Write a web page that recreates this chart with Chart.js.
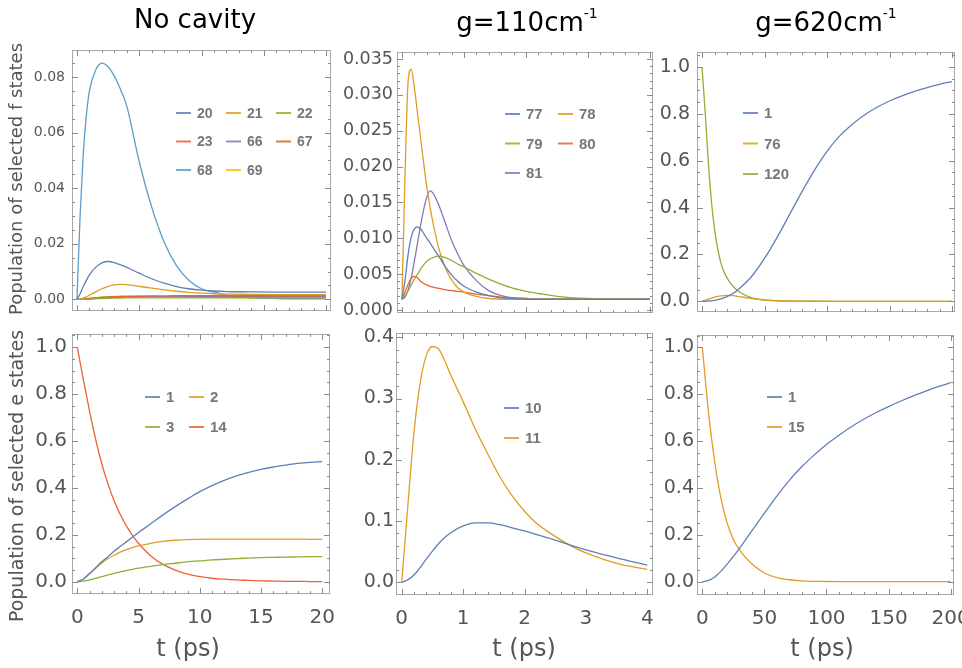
<!DOCTYPE html>
<html>
<head>
<meta charset="utf-8">
<script src="https://cdn.jsdelivr.net/npm/chart.js@4.4.1/dist/chart.umd.min.js"></script>
<style>
  body { margin: 0; background: #fff; }
  #lienzo { position: relative; width: 962px; height: 668px; overflow: hidden; background: #fff; }
  #lienzo canvas { position: absolute; left: 0; top: 0; }
  .texto { position: absolute; font-family: 'DejaVu Sans', sans-serif; white-space: nowrap; line-height: 1; }
  .titulo { font-size: 26px; color: #000; transform: translateX(-50%); }
  .titulo sup { font-size: 14px; vertical-align: 13px; }
  .ejeT { font-size: 24px; color: #555; transform: translateX(-50%); }
  .ejeY { color: #555; transform: translate(-50%, -50%) rotate(-90deg); }
</style>
</head>
<body>
<div id="lienzo">
  <canvas id="panelF0" width="962" height="668"></canvas>
  <canvas id="panelF1" width="962" height="668"></canvas>
  <canvas id="panelF2" width="962" height="668"></canvas>
  <canvas id="panelE0" width="962" height="668"></canvas>
  <canvas id="panelE1" width="962" height="668"></canvas>
  <canvas id="panelE2" width="962" height="668"></canvas>

  <div class="texto titulo" style="left:195px; top:6px;">No cavity</div>
  <div class="texto titulo" style="left:527px; top:6px;">g=110cm<sup>-1</sup></div>
  <div class="texto titulo" style="left:826px; top:6px;">g=620cm<sup>-1</sup></div>

  <div class="texto ejeY" style="left:16px; top:179px; font-size:18px;">Population of selected f states</div>
  <div class="texto ejeY" style="left:16px; top:476px; font-size:19px;">Population of selected e states</div>

  <div class="texto ejeT" style="left:188px; top:636px;">t (ps)</div>
  <div class="texto ejeT" style="left:524px; top:636px;">t (ps)</div>
  <div class="texto ejeT" style="left:822px; top:636px;">t (ps)</div>
</div>

<script>
// Paleta por defecto de Mathematica
const azul = '#5E81B5';
const naranja = '#E19C24';
const verde = '#8FB032';
const rojo = '#EB6235';
const violeta = '#8778B3';
const marron = '#C56E1A';
const celeste = '#5D9EC7';
const amarillo = '#FFBF00';

// --- Estados f, sin cavidad (t en ps) ---
const tiempoF0 = [0, 0.25, 0.5, 0.75, 1, 1.5, 2, 2.5, 3, 3.5, 4, 5, 6, 7, 8, 9, 10, 11, 12, 14, 16, 18, 20];
const f20 = [0, 0.002, 0.0045, 0.0068, 0.0088, 0.0115, 0.0131, 0.0136, 0.0132, 0.0124, 0.0115, 0.0094, 0.0074, 0.0058, 0.0046, 0.0038, 0.0033, 0.003, 0.0028, 0.0027, 0.0026, 0.0026, 0.0026];
const f21 = [0, 0.0001, 0.0004, 0.0009, 0.0015, 0.0027, 0.0038, 0.0047, 0.0052, 0.0054, 0.0053, 0.0047, 0.004, 0.0034, 0.0029, 0.0025, 0.0022, 0.002, 0.0019, 0.0018, 0.0017, 0.0017, 0.0017];
const f22 = [0, 0, 0.00003, 0.00006, 0.0001, 0.0002, 0.0003, 0.00038, 0.00044, 0.00048, 0.0005, 0.00052, 0.00052, 0.00052, 0.00052, 0.00052, 0.00052, 0.00052, 0.00052, 0.00052, 0.00052, 0.00052, 0.00052];
const f23 = [0, 0.00002, 0.00008, 0.00016, 0.00025, 0.00045, 0.00065, 0.0008, 0.00092, 0.001, 0.00107, 0.00116, 0.00122, 0.00126, 0.00129, 0.00131, 0.00133, 0.00134, 0.00135, 0.00136, 0.00137, 0.00137, 0.00137];
const f66 = [0, 0.00003, 0.0001, 0.0002, 0.0003, 0.0005, 0.00068, 0.0008, 0.00088, 0.00093, 0.00096, 0.00098, 0.00098, 0.00097, 0.00096, 0.00095, 0.00094, 0.00093, 0.00092, 0.0009, 0.00089, 0.00088, 0.00087];
const f67 = [0, 0.00001, 0.00005, 0.0001, 0.00017, 0.00032, 0.00048, 0.0006, 0.0007, 0.00078, 0.00084, 0.00092, 0.00097, 0.001, 0.00103, 0.00105, 0.00107, 0.00108, 0.00109, 0.0011, 0.00111, 0.00111, 0.00112];
const f68 = [0, 0.03, 0.052, 0.066, 0.075, 0.0825, 0.085, 0.0837, 0.0803, 0.0755, 0.0695, 0.0495, 0.0332, 0.0206, 0.012, 0.0068, 0.0038, 0.0026, 0.0015, 0.0006, 0.0003, 0.0002, 0.0002];
const f69 = [0, 0.00003, 0.0001, 0.00022, 0.00035, 0.0006, 0.0008, 0.00095, 0.00106, 0.00112, 0.00114, 0.00112, 0.00105, 0.00097, 0.00089, 0.00082, 0.00075, 0.00069, 0.00064, 0.00056, 0.0005, 0.00046, 0.00043];

// --- Estados f, g = 110 cm-1 ---
const tiempoF1 = [0, 0.05, 0.1, 0.15, 0.2, 0.25, 0.3, 0.35, 0.4, 0.45, 0.5, 0.6, 0.7, 0.8, 0.9, 1.0, 1.2, 1.4, 1.6, 1.8, 2.0, 2.2, 2.5, 3.0, 3.5, 4.0];
const f77 = [0.0015, 0.0042, 0.0078, 0.0102, 0.0113, 0.0116, 0.0113, 0.0107, 0.01, 0.0094, 0.0087, 0.0074, 0.006, 0.0049, 0.004, 0.0033, 0.0025, 0.002, 0.0017, 0.0016, 0.0015, 0.0015, 0.0015, 0.0015, 0.0015, 0.0015];
const f78 = [0.0015, 0.019, 0.032, 0.0336, 0.031, 0.0275, 0.024, 0.0205, 0.0172, 0.0145, 0.0122, 0.0084, 0.0059, 0.0042, 0.0031, 0.0025, 0.0019, 0.0016, 0.0015, 0.0015, 0.0015, 0.0015, 0.0015, 0.0015, 0.0015, 0.0015];
const f79 = [0.0015, 0.002, 0.0027, 0.0035, 0.0043, 0.005, 0.0057, 0.0063, 0.0068, 0.0071, 0.0073, 0.0075, 0.0073, 0.0069, 0.0064, 0.006, 0.0051, 0.0043, 0.0036, 0.003, 0.0026, 0.0023, 0.0019, 0.0016, 0.0015, 0.0015];
const f80 = [0.0015, 0.0025, 0.0036, 0.0044, 0.0047, 0.0045, 0.004, 0.0037, 0.0035, 0.0033, 0.0032, 0.003, 0.0028, 0.0027, 0.0026, 0.0025, 0.0022, 0.002, 0.0018, 0.0017, 0.0016, 0.0015, 0.0015, 0.0015, 0.0015, 0.0015];
const f81 = [0.0015, 0.0018, 0.0028, 0.0045, 0.0068, 0.0093, 0.0118, 0.014, 0.0157, 0.0166, 0.0163, 0.0145, 0.0121, 0.0097, 0.0078, 0.0062, 0.0041, 0.0027, 0.002, 0.0017, 0.0016, 0.0015, 0.0015, 0.0015, 0.0015, 0.0015];

// --- Estados f, g = 620 cm-1 ---
const tiempoF2 = [0, 2.5, 5, 7.5, 10, 15, 20, 25, 30, 40, 50, 60, 70, 80, 90, 100, 110, 120, 130, 140, 150, 160, 170, 180, 190, 200];
const g1 = [0, 0.0003, 0.001, 0.002, 0.004, 0.01, 0.02, 0.034, 0.055, 0.108, 0.183, 0.272, 0.37, 0.468, 0.56, 0.64, 0.705, 0.755, 0.795, 0.828, 0.855, 0.877, 0.896, 0.912, 0.926, 0.938];
const g76 = [0, 0.004, 0.009, 0.014, 0.018, 0.023, 0.025, 0.024, 0.02, 0.012, 0.006, 0.003, 0.0015, 0.0007, 0.0003, 0.0001, 0, 0, 0, 0, 0, 0, 0, 0, 0, 0];
const g120 = [1.0, 0.81, 0.6, 0.43, 0.31, 0.165, 0.1, 0.063, 0.04, 0.015, 0.005, 0.002, 0.0008, 0.0003, 0.0001, 0, 0, 0, 0, 0, 0, 0, 0, 0, 0, 0];

// --- Estados e, sin cavidad ---
const tiempoE0 = [0, 0.5, 1, 1.5, 2, 2.5, 3, 3.5, 4, 4.5, 5, 6, 7, 8, 9, 10, 11, 12, 13, 14, 15, 16, 17, 18, 19, 20];
const e1 = [0, 0.012, 0.035, 0.06, 0.085, 0.107, 0.13, 0.15, 0.17, 0.19, 0.21, 0.247, 0.285, 0.32, 0.353, 0.384, 0.41, 0.432, 0.451, 0.466, 0.479, 0.489, 0.497, 0.504, 0.509, 0.512];
const e2 = [0, 0.012, 0.034, 0.058, 0.08, 0.098, 0.113, 0.126, 0.137, 0.146, 0.153, 0.164, 0.172, 0.177, 0.18, 0.181, 0.182, 0.182, 0.182, 0.182, 0.182, 0.182, 0.182, 0.182, 0.181, 0.181];
const e3 = [0, 0.003, 0.008, 0.015, 0.022, 0.029, 0.036, 0.042, 0.048, 0.053, 0.058, 0.066, 0.073, 0.079, 0.085, 0.089, 0.093, 0.096, 0.099, 0.101, 0.103, 0.104, 0.105, 0.106, 0.107, 0.107];
const e14 = [1.0, 0.86, 0.728, 0.607, 0.503, 0.418, 0.346, 0.288, 0.239, 0.198, 0.164, 0.11, 0.074, 0.05, 0.033, 0.022, 0.015, 0.011, 0.008, 0.006, 0.004, 0.003, 0.002, 0.002, 0.001, 0.001];

// --- Estados e, g = 110 cm-1 ---
const tiempoE1 = [0, 0.1, 0.2, 0.3, 0.4, 0.5, 0.6, 0.7, 0.8, 1.0, 1.2, 1.4, 1.6, 1.8, 2.0, 2.2, 2.5, 2.8, 3.0, 3.5, 4.0];
const e10 = [0, 0.004, 0.012, 0.024, 0.038, 0.051, 0.063, 0.073, 0.081, 0.092, 0.097, 0.097, 0.094, 0.089, 0.084, 0.078, 0.069, 0.059, 0.053, 0.04, 0.028];
const e11 = [0, 0.125, 0.245, 0.325, 0.37, 0.385, 0.381, 0.362, 0.338, 0.295, 0.25, 0.21, 0.172, 0.141, 0.116, 0.096, 0.075, 0.057, 0.048, 0.031, 0.021];

// --- Estados e, g = 620 cm-1 ---
const tiempoE2 = [0, 5, 10, 15, 20, 25, 30, 40, 50, 60, 70, 80, 90, 100, 110, 120, 130, 140, 150, 160, 170, 180, 190, 200];
const h1 = [0, 0.005, 0.02, 0.045, 0.075, 0.108, 0.142, 0.218, 0.292, 0.365, 0.432, 0.49, 0.54, 0.585, 0.625, 0.661, 0.693, 0.722, 0.747, 0.771, 0.793, 0.813, 0.832, 0.849];
const h15 = [1.0, 0.72, 0.51, 0.355, 0.25, 0.18, 0.135, 0.075, 0.037, 0.017, 0.008, 0.0035, 0.0015, 0.0007, 0.0003, 0.0001, 0, 0, 0, 0, 0, 0, 0, 0];

// Marcas de los ejes
const ticksT20 = [0, 5, 10, 15, 20];
const ticksT4 = [0, 1, 2, 3, 4];
const ticksT200 = [0, 50, 100, 150, 200];
const ticksF0 = [0, 0.02, 0.04, 0.06, 0.08];
const ticksF1 = [0, 0.005, 0.01, 0.015, 0.02, 0.025, 0.03, 0.035];
const ticksUno = [0, 0.2, 0.4, 0.6, 0.8, 1.0];
const ticksE1 = [0, 0.1, 0.2, 0.3, 0.4];

const colorTexto = '#555';
const colorMarco = '#a8a8a8';
const anchoEjeY = 62;
const altoEjeX = 40;

function menores(desde, hasta, paso) {
    const lista = [];
    for (let v = desde; v <= hasta + paso / 2; v += paso) lista.push(+v.toFixed(6));
    return lista;
}

// Marco con marcas hacia adentro, estilo Mathematica
const marcoPlugin = {
    id: 'marco',
    afterDatasetsDraw(chart, args, opts) {
        const { ctx, chartArea: a, scales: { x, y } } = chart;
        ctx.save();
        ctx.strokeStyle = colorMarco;
        ctx.lineWidth = 1;
        ctx.strokeRect(a.left + 0.5, a.top + 0.5, a.right - a.left - 1, a.bottom - a.top - 1);
        const trazar = (lista, largo) => {
            lista.forEach((v) => {
                if (v < x.min || v > x.max) return;
                const px = Math.round(x.getPixelForValue(v)) + 0.5;
                ctx.beginPath();
                ctx.moveTo(px, a.bottom); ctx.lineTo(px, a.bottom - largo);
                ctx.moveTo(px, a.top); ctx.lineTo(px, a.top + largo);
                ctx.stroke();
            });
        };
        const trazarY = (lista, largo) => {
            lista.forEach((v) => {
                if (v < y.min || v > y.max) return;
                const py = Math.round(y.getPixelForValue(v)) + 0.5;
                ctx.beginPath();
                ctx.moveTo(a.left, py); ctx.lineTo(a.left + largo, py);
                ctx.moveTo(a.right, py); ctx.lineTo(a.right - largo, py);
                ctx.stroke();
            });
        };
        ctx.strokeStyle = '#8c8c8c';
        trazar(opts.menoresX, 3);
        trazarY(opts.menoresY, 3);
        trazar(opts.mayoresX, 6);
        trazarY(opts.mayoresY, 6);
        ctx.restore();
    }
};

// Leyenda dentro del panel, en cuadricula
const leyendaPlugin = {
    id: 'leyenda',
    afterDraw(chart, args, opts) {
        const { ctx } = chart;
        ctx.save();
        chart.data.datasets.forEach((ds, i) => {
            const col = i % opts.columnas;
            const fila = Math.floor(i / opts.columnas);
            const x = opts.x + col * opts.pasoX;
            const y = opts.y + fila * opts.pasoY;
            ctx.globalAlpha = 0.85;
            ctx.strokeStyle = ds.borderColor;
            ctx.lineWidth = 2;
            ctx.beginPath();
            ctx.moveTo(x, y);
            ctx.lineTo(x + 15, y);
            ctx.stroke();
            ctx.globalAlpha = 1;
            ctx.fillStyle = '#777';
            ctx.font = `bold ${opts.tam}px 'Liberation Sans', Arial, sans-serif`;
            ctx.textBaseline = 'middle';
            ctx.textAlign = 'left';
            ctx.fillText(ds.label, x + 21, y + 1);
        });
        ctx.restore();
    }
};

function serie(etiqueta, tiempos, valores, color) {
    return {
        label: etiqueta,
        data: tiempos.map((t, i) => ({ x: t, y: valores[i] })),
        borderColor: color,
        borderWidth: 1.3,
        pointRadius: 0,
        fill: false,
        cubicInterpolationMode: 'monotone'
    };
}

function crearPanel(id, cfg) {
    const [izq, arriba, der, abajo] = cfg.area;
    return new Chart(document.getElementById(id), {
        type: 'line',
        data: { datasets: cfg.series },
        options: {
            responsive: false,
            animation: false,
            events: [],
            layout: { padding: { left: izq - anchoEjeY, top: arriba, right: 962 - der, bottom: 668 - abajo - altoEjeX } },
            plugins: {
                legend: { display: false },
                tooltip: { enabled: false },
                leyenda: cfg.leyenda,
                marco: { mayoresX: cfg.ticksX, mayoresY: cfg.ticksY, menoresX: cfg.menoresX, menoresY: cfg.menoresY }
            },
            scales: {
                x: {
                    type: 'linear',
                    min: cfg.rangoX[0],
                    max: cfg.rangoX[1],
                    grid: { display: false, drawTicks: false },
                    border: { display: false },
                    ticks: {
                        display: cfg.etiquetasX,
                        autoSkip: false,
                        maxRotation: 0,
                        padding: 12,
                        color: colorTexto,
                        font: { family: "'DejaVu Sans'", size: 20 },
                        callback: (v) => String(v)
                    },
                    afterBuildTicks: (s) => { s.ticks = cfg.ticksX.map((v) => ({ value: v })); },
                    afterFit: (s) => { s.height = altoEjeX; s.paddingLeft = 0; s.paddingRight = 0; }
                },
                y: {
                    type: 'linear',
                    min: cfg.rangoY[0],
                    max: cfg.rangoY[1],
                    grid: { display: false, drawTicks: false },
                    border: { display: false },
                    ticks: {
                        autoSkip: false,
                        padding: cfg.sepY,
                        color: colorTexto,
                        font: { family: "'DejaVu Sans'", size: cfg.tamY },
                        callback: (v) => v.toFixed(cfg.decimales)
                    },
                    afterBuildTicks: (s) => { s.ticks = cfg.ticksY.map((v) => ({ value: v })); },
                    afterFit: (s) => { s.width = anchoEjeY; s.paddingTop = 0; s.paddingBottom = 0; }
                }
            }
        },
        plugins: [marcoPlugin, leyendaPlugin]
    });
}

crearPanel('panelF0', {
    area: [72, 50, 331, 311],
    rangoX: [-0.4, 20.4], rangoY: [-0.0042, 0.0897],
    ticksX: ticksT20, ticksY: ticksF0,
    menoresX: menores(0, 20, 1), menoresY: menores(0, 0.085, 0.005),
    etiquetasX: false, tamY: 14, sepY: 7, decimales: 2,
    leyenda: { x: 176, y: 113, columnas: 3, pasoX: 50, pasoY: 28.5, tam: 14 },
    series: [
        serie('20', tiempoF0, f20, azul),
        serie('21', tiempoF0, f21, naranja),
        serie('22', tiempoF0, f22, verde),
        serie('23', tiempoF0, f23, rojo),
        serie('66', tiempoF0, f66, violeta),
        serie('67', tiempoF0, f67, marron),
        serie('68', tiempoF0, f68, celeste),
        serie('69', tiempoF0, f69, amarillo)
    ]
});

crearPanel('panelF1', {
    area: [397, 52, 653, 313],
    rangoX: [-0.08, 4.048], rangoY: [-0.00042, 0.03598],
    ticksX: ticksT4, ticksY: ticksF1,
    menoresX: menores(0, 4, 0.2), menoresY: menores(0, 0.035, 0.001),
    etiquetasX: false, tamY: 17.5, sepY: 4, decimales: 3,
    leyenda: { x: 505, y: 114, columnas: 2, pasoX: 53, pasoY: 29.5, tam: 15 },
    series: [
        serie('77', tiempoF1, f77, azul),
        serie('78', tiempoF1, f78, naranja),
        serie('79', tiempoF1, f79, verde),
        serie('80', tiempoF1, f80, rojo),
        serie('81', tiempoF1, f81, violeta)
    ]
});

crearPanel('panelF2', {
    area: [697, 52, 955, 312],
    rangoX: [-4, 202.4], rangoY: [-0.0457, 1.064],
    ticksX: ticksT200, ticksY: ticksUno,
    menoresX: menores(0, 200, 10), menoresY: menores(0, 1.05, 0.05),
    etiquetasX: false, tamY: 19, sepY: 7, decimales: 1,
    leyenda: { x: 743, y: 113, columnas: 1, pasoX: 0, pasoY: 30.5, tam: 15 },
    series: [
        serie('1', tiempoF2, g1, azul),
        serie('76', tiempoF2, g76, naranja),
        serie('120', tiempoF2, g120, verde)
    ]
});

crearPanel('panelE0', {
    area: [72, 334, 330, 594],
    rangoX: [-0.43, 20.63], rangoY: [-0.052, 1.0555],
    ticksX: ticksT20, ticksY: ticksUno,
    menoresX: menores(0, 20, 1), menoresY: menores(0, 1.05, 0.05),
    etiquetasX: true, tamY: 20, sepY: 5, decimales: 1,
    leyenda: { x: 145, y: 397, columnas: 2, pasoX: 44, pasoY: 30, tam: 15 },
    series: [
        serie('1', tiempoE0, e1, azul),
        serie('2', tiempoE0, e2, naranja),
        serie('3', tiempoE0, e3, verde),
        serie('14', tiempoE0, e14, rojo)
    ]
});

crearPanel('panelE1', {
    area: [396, 333, 653, 595],
    rangoX: [-0.093, 4.093], rangoY: [-0.0207, 0.407],
    ticksX: ticksT4, ticksY: ticksE1,
    menoresX: menores(0, 4, 0.2), menoresY: menores(0, 0.4, 0.02),
    etiquetasX: true, tamY: 19, sepY: 2, decimales: 1,
    leyenda: { x: 504, y: 408, columnas: 1, pasoX: 0, pasoY: 30, tam: 15 },
    series: [
        serie('10', tiempoE1, e10, azul),
        serie('11', tiempoE1, e11, naranja)
    ]
});

crearPanel('panelE2', {
    area: [697, 335, 954, 595],
    rangoX: [-4.3, 202.7], rangoY: [-0.057, 1.0526],
    ticksX: ticksT200, ticksY: ticksUno,
    menoresX: menores(0, 200, 10), menoresY: menores(0, 1.05, 0.05),
    etiquetasX: true, tamY: 19, sepY: 3, decimales: 1,
    leyenda: { x: 767, y: 397, columnas: 1, pasoX: 0, pasoY: 30, tam: 15 },
    series: [
        serie('1', tiempoE2, h1, azul),
        serie('15', tiempoE2, h15, naranja)
    ]
});
</script>
</body>
</html>
